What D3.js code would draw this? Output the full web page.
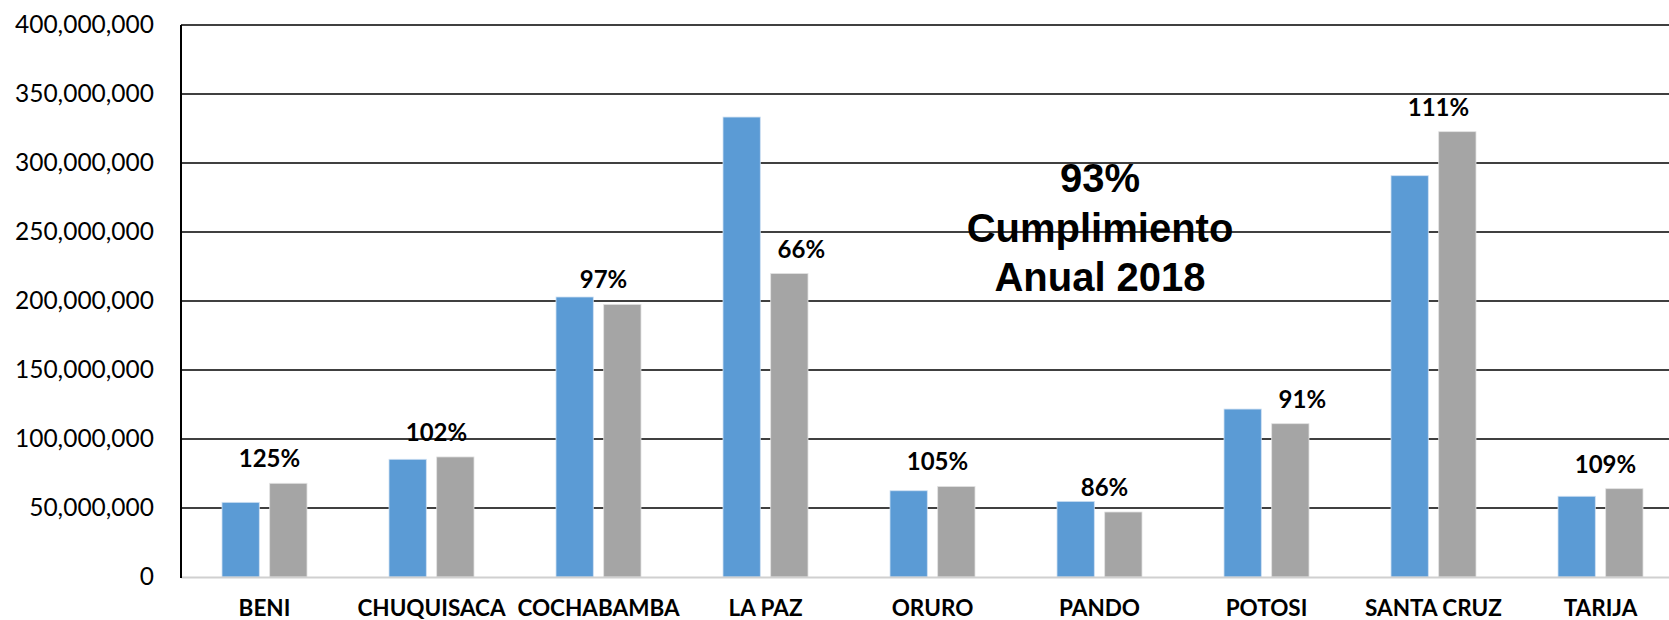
<!DOCTYPE html>
<html>
	<head>
		<meta charset="utf-8" />
		<title>Cumplimiento Anual 2018</title>
		<style>
			html, body { margin: 0; padding: 0; background: #fff; }
			svg { display: block; }
		</style>
	</head>
	<body>
		<div id="chart"></div>

		<script type="text/javascript" src="https://cdn.jsdelivr.net/npm/d3@7/dist/d3.min.js"></script>
		<script type="text/javascript">
			// datos por departamento (Bs.)
			var departamentos = ["BENI", "CHUQUISACA", "COCHABAMBA", "LA PAZ", "ORURO", "PANDO", "POTOSI", "SANTA CRUZ", "TARIJA"];
			var programado = [54100000, 85300000, 202900000, 333300000, 62500000, 54800000, 121700000, 290800000, 58500000];
			var recaudado = [67900000, 87000000, 197500000, 219900000, 65600000, 47100000, 111100000, 322700000, 64000000];
			var porcentajes = ["125%", "102%", "97%", "66%", "105%", "86%", "91%", "111%", "109%"];
			var yTicks = [0, 50000000, 100000000, 150000000, 200000000, 250000000, 300000000, 350000000, 400000000];
			var anotacion = ["93%", "Cumplimiento", "Anual 2018"];

			var width = 1669,
			    height = 620;

			var margin = { top: 25, left: 181, bottom: 43 };
			var band = 167;

			var svg = d3.select("#chart").append("svg")
			    .attr("width", width)
			    .attr("height", height);

			var x = d3.scaleBand()
			    .domain(departamentos)
			    .range([margin.left, margin.left + band * departamentos.length])
			    .paddingInner(0)
			    .paddingOuter(0);

			var xSerie = d3.scaleBand()
			    .domain(["programado", "recaudado"])
			    .range([41, 126])
			    .paddingInner(0.218)
			    .paddingOuter(0);

			var y = d3.scaleLinear()
			    .domain([0, 400000000])
			    .range([height - margin.bottom, margin.top]);

			// grid lines
			svg.append("g")
			    .selectAll("line")
			    .data(yTicks.filter(function (d) { return d > 0; }))
			    .enter().append("line")
			    .attr("x1", margin.left)
			    .attr("x2", width)
			    .attr("y1", function (d) { return y(d); })
			    .attr("y2", function (d) { return y(d); })
			    .attr("stroke", "#000")
			    .attr("stroke-width", 1.6);

			// y axis labels
			var fmt = d3.format(",");
			var yAxis = d3.axisLeft(y)
			    .tickValues(yTicks)
			    .tickFormat(function (d) { return fmt(d); })
			    .tickSize(0)
			    .tickPadding(27);

			svg.append("g")
			    .attr("transform", "translate(" + margin.left + ",0)")
			    .call(yAxis)
			    .call(function (g) { g.select(".domain").remove(); })
			    .selectAll("text")
			    .attr("font-family", "Lato, 'Open Sans', sans-serif")
			    .attr("font-size", "24.5px")
			    .attr("fill", "#000");

			var rows = departamentos.map(function (d, i) {
			    return { dep: d, programado: programado[i], recaudado: recaudado[i], pct: porcentajes[i] };
			});

			var groups = svg.append("g")
			    .selectAll("g")
			    .data(rows)
			    .enter().append("g")
			    .attr("transform", function (d) { return "translate(" + x(d.dep) + ",0)"; });

			groups.append("rect")
			    .attr("x", xSerie("programado"))
			    .attr("y", function (d) { return y(d.programado); })
			    .attr("width", xSerie.bandwidth())
			    .attr("height", function (d) { return y(0) - y(d.programado); })
			    .attr("fill", "#5b9bd5")
			    .attr("stroke", "#cfe0f2")
			    .attr("stroke-width", 0.8);

			groups.append("rect")
			    .attr("x", xSerie("recaudado"))
			    .attr("y", function (d) { return y(d.recaudado); })
			    .attr("width", xSerie.bandwidth())
			    .attr("height", function (d) { return y(0) - y(d.recaudado); })
			    .attr("fill", "#a5a5a5")
			    .attr("stroke", "#e2e2e2")
			    .attr("stroke-width", 0.8);

			// percentage labels: centred on the pair, moved over the grey bar
			// when the blue bar would run into the text
			var labelGap = 16;
			groups.append("text")
			    .attr("x", function (d) {
			        var base = y(d.recaudado) - labelGap;
			        if (y(d.programado) < base + 2) {
			            return xSerie("recaudado") + xSerie.bandwidth() / 2 + 12;
			        }
			        return band / 2 + 5;
			    })
			    .attr("y", function (d) { return y(d.recaudado) - labelGap; })
			    .attr("text-anchor", "middle")
			    .attr("font-family", "Lato, 'Open Sans', sans-serif")
			    .attr("font-weight", "bold")
			    .attr("font-size", "24px")
			    .attr("fill", "#000")
			    .text(function (d) { return d.pct; });

			// left axis and base line
			svg.append("line")
			    .attr("x1", margin.left)
			    .attr("x2", width)
			    .attr("y1", y(0) + 0.5)
			    .attr("y2", y(0) + 0.5)
			    .attr("stroke", "#d0d0d0")
			    .attr("stroke-width", 2);

			svg.append("line")
			    .attr("x1", margin.left)
			    .attr("x2", margin.left)
			    .attr("y1", y(400000000))
			    .attr("y2", y(0) + 1)
			    .attr("stroke", "#000")
			    .attr("stroke-width", 2);

			// category labels
			svg.append("g")
			    .selectAll("text")
			    .data(departamentos)
			    .enter().append("text")
			    .attr("x", function (d) { return x(d) + x.bandwidth() / 2; })
			    .attr("y", 616)
			    .attr("text-anchor", "middle")
			    .attr("font-family", "Lato, 'Open Sans', sans-serif")
			    .attr("font-weight", "bold")
			    .attr("font-size", "22.5px")
			    .attr("fill", "#000")
			    .text(function (d) { return d; });

			// annotation
			svg.append("text")
			    .attr("x", 1100)
			    .attr("y", 192)
			    .attr("text-anchor", "middle")
			    .attr("font-family", "'Liberation Sans', Arial, sans-serif")
			    .attr("font-weight", "bold")
			    .attr("font-size", "40px")
			    .attr("fill", "#000")
			    .selectAll("tspan")
			    .data(anotacion)
			    .enter().append("tspan")
			    .attr("x", 1100)
			    .attr("dy", function (d, i) { return i === 0 ? 0 : 49.5; })
			    .text(function (d) { return d; });
		</script>
	</body>
</html>
